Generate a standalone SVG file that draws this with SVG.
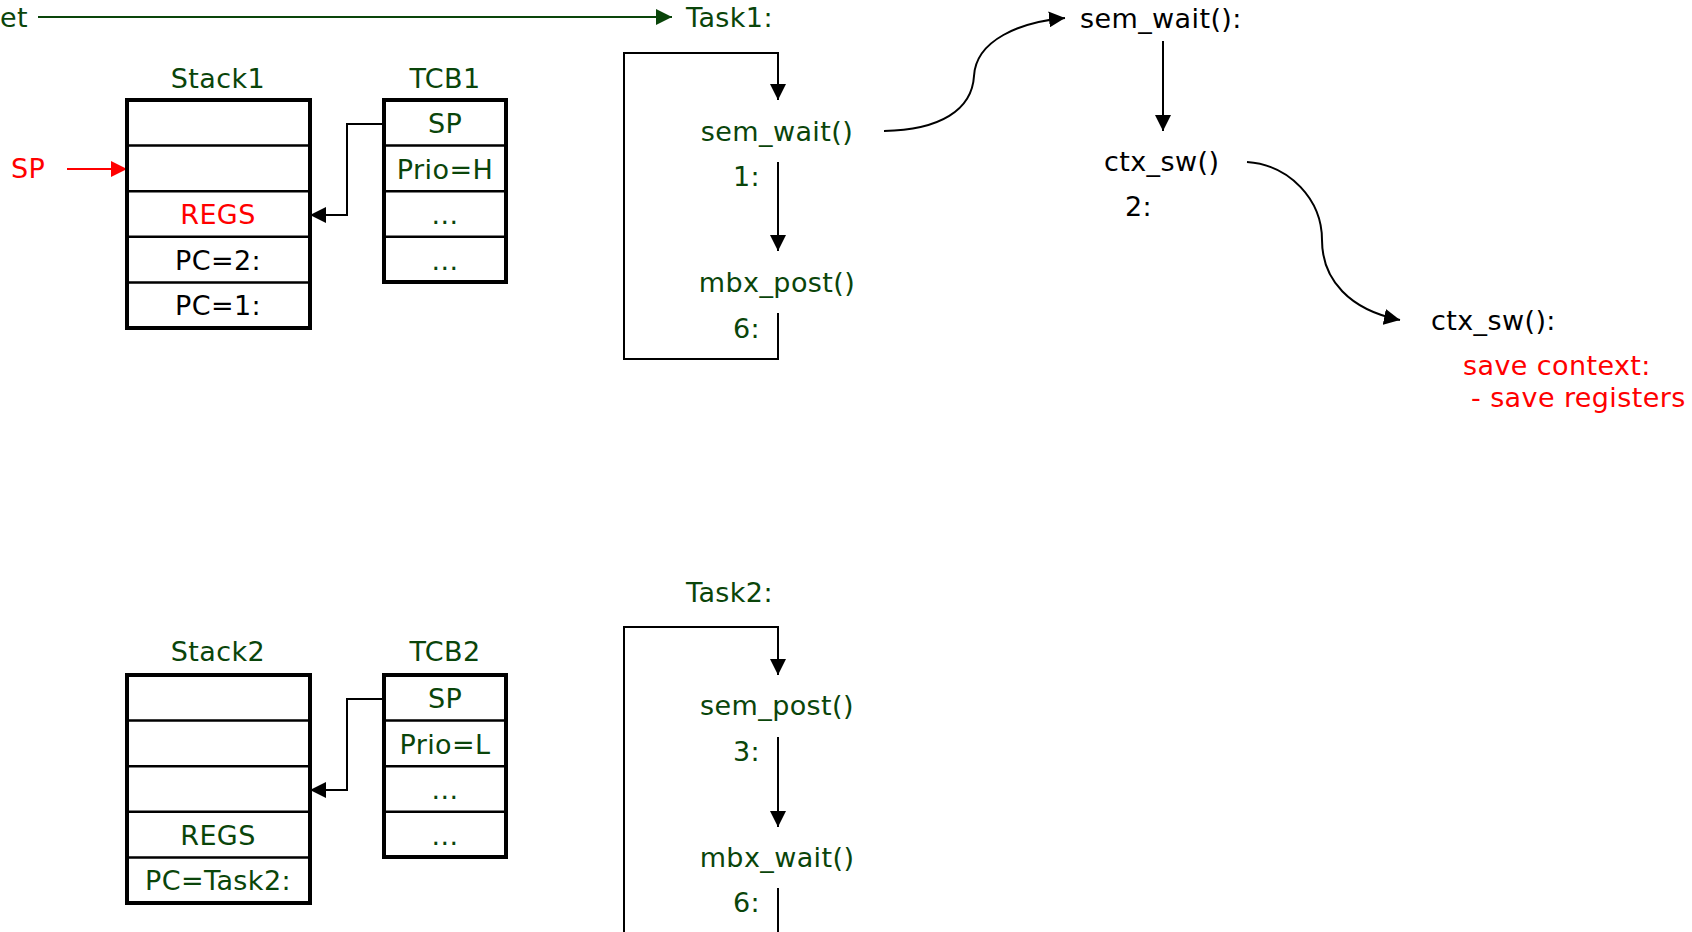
<svg xmlns="http://www.w3.org/2000/svg" width="1692" height="932" viewBox="0 0 1692 932">
<style>
text{font-family:"DejaVu Sans","Liberation Sans",sans-serif;font-size:27px;letter-spacing:0.4px}
.g{fill:#0a450a}
.k{fill:#000}
.r{fill:#ff0000}
.m{text-anchor:middle}
.box{fill:#fff;stroke:#000;stroke-width:4}
.row{stroke:#000;stroke-width:2.5;fill:none}
.c{fill:none;stroke:#000;stroke-width:2}
</style>
<defs>
<marker id="ak" viewBox="0 0 16 16" refX="16" refY="8" markerWidth="16" markerHeight="16" markerUnits="userSpaceOnUse" orient="auto"><path d="M0,0 L16,8 L0,16 z" fill="#000"/></marker>
<marker id="ag" viewBox="0 0 16 16" refX="16" refY="8" markerWidth="16" markerHeight="16" markerUnits="userSpaceOnUse" orient="auto"><path d="M0,0 L16,8 L0,16 z" fill="#0a450a"/></marker>
<marker id="ar" viewBox="0 0 16 16" refX="16" refY="8" markerWidth="16" markerHeight="16" markerUnits="userSpaceOnUse" orient="auto"><path d="M0,0 L16,8 L0,16 z" fill="#ff0000"/></marker>
</defs>

<g id="connectors">
<path d="M38,17 H672" stroke="#0a450a" stroke-width="2" fill="none" marker-end="url(#ag)"/>
<path d="M67,169 H127" stroke="#ff0000" stroke-width="2" fill="none" marker-end="url(#ar)"/>
<path class="c" d="M384,124 H347 V215 H310" marker-end="url(#ak)"/>
<path class="c" d="M778,313 V359 H624 V53 H778 V100" marker-end="url(#ak)"/>
<path class="c" d="M778,162 V251" marker-end="url(#ak)"/>
<path class="c" d="M884,131 C940,130 972,110 974,76 C976,40 1020,22 1065,18" marker-end="url(#ak)"/>
<path class="c" d="M1163,41 V131" marker-end="url(#ak)"/>
<path class="c" d="M1247,162 C1290,165 1322,200 1322,240 C1322,280 1350,310 1400,320" marker-end="url(#ak)"/>
<path class="c" d="M384,699 H347 V790 H310" marker-end="url(#ak)"/>
<path class="c" d="M624,932 V627 H778 V675" marker-end="url(#ak)"/>
<path class="c" d="M778,737 V827" marker-end="url(#ak)"/>
<path class="c" d="M778,888 V932"/>
</g>

<g id="reset-label"><text class="g" x="0" y="27">et</text></g>
<g id="sp-label"><text class="r" x="11" y="178">SP</text></g>

<g id="stack1">
<text class="g m" x="218" y="88">Stack1</text>
<rect class="box" x="127" y="100" width="183" height="228"/>
<path class="row" d="M127,145.6 H310 M127,191.2 H310 M127,236.8 H310 M127,282.4 H310"/>
<text class="r m" x="218" y="224">REGS</text>
<text class="k m" x="218" y="269.5">PC=2:</text>
<text class="k m" x="218" y="315">PC=1:</text>
</g>

<g id="tcb1">
<text class="g m" x="445" y="88">TCB1</text>
<rect class="box" x="384" y="100" width="122" height="182"/>
<path class="row" d="M384,145.6 H506 M384,191.2 H506 M384,236.8 H506"/>
<text class="g m" x="445" y="133">SP</text>
<text class="g m" x="445" y="178.5">Prio=H</text>
<text class="g m" x="445" y="224">...</text>
<text class="g m" x="445" y="269.5">...</text>
</g>

<g id="task1">
<text class="g" x="686" y="27">Task1:</text>
<text class="g m" x="777" y="141">sem_wait()</text>
<text class="g" x="733" y="186">1:</text>
<text class="g m" x="777" y="292">mbx_post()</text>
<text class="g" x="733" y="338">6:</text>
</g>

<g id="sem-wait">
<text class="k" x="1080" y="28">sem_wait():</text>
<text class="k" x="1104" y="171">ctx_sw()</text>
<text class="k" x="1125" y="216">2:</text>
</g>

<g id="ctx-sw">
<text class="k" x="1431" y="330">ctx_sw():</text>
<text class="r" x="1463" y="375">save context:</text>
<text class="r" x="1471" y="407">- save registers</text>
</g>

<g id="stack2">
<text class="g m" x="218" y="661">Stack2</text>
<rect class="box" x="127" y="675" width="183" height="228"/>
<path class="row" d="M127,720.6 H310 M127,766.2 H310 M127,811.8 H310 M127,857.4 H310"/>
<text class="g m" x="218" y="844.5">REGS</text>
<text class="g m" x="218" y="890">PC=Task2:</text>
</g>

<g id="tcb2">
<text class="g m" x="445" y="661">TCB2</text>
<rect class="box" x="384" y="675" width="122" height="182"/>
<path class="row" d="M384,720.6 H506 M384,766.2 H506 M384,811.8 H506"/>
<text class="g m" x="445" y="708">SP</text>
<text class="g m" x="445" y="753.5">Prio=L</text>
<text class="g m" x="445" y="799">...</text>
<text class="g m" x="445" y="844.5">...</text>
</g>

<g id="task2">
<text class="g" x="686" y="602">Task2:</text>
<text class="g m" x="777" y="715">sem_post()</text>
<text class="g" x="733" y="761">3:</text>
<text class="g m" x="777" y="867">mbx_wait()</text>
<text class="g" x="733" y="912">6:</text>
</g>
</svg>
